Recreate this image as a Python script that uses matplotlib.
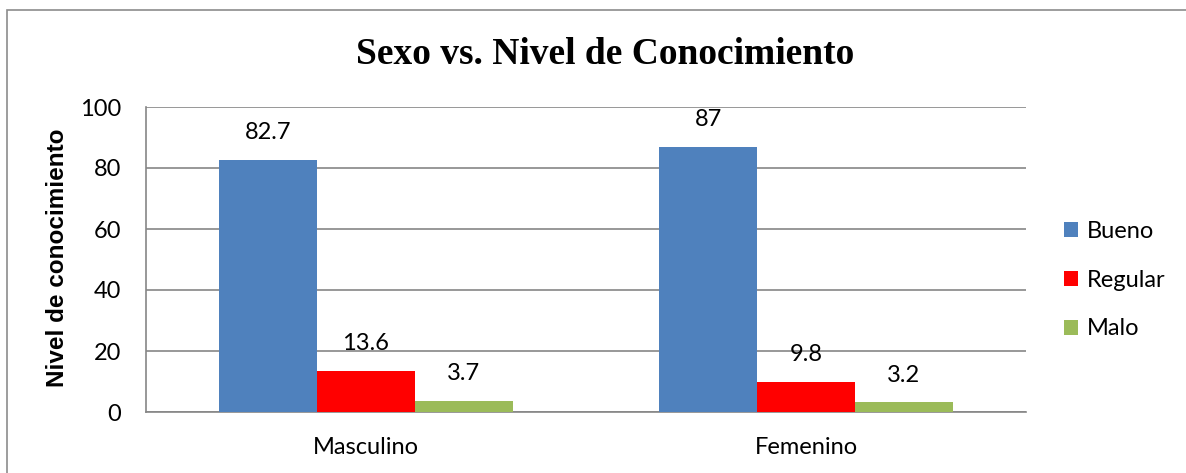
import matplotlib
matplotlib.use('Agg')
import matplotlib.pyplot as plt
from matplotlib.patches import Rectangle
import numpy as np

categories = ['Masculino', 'Femenino']
series_names = ['Bueno', 'Regular', 'Malo']
bueno = [82.7, 87]
regular = [13.6, 9.8]
malo = [3.7, 3.2]
value_labels = [['82.7', '87'], ['13.6', '9.8'], ['3.7', '3.2']]
colors = ['#4F81BD', '#FF0000', '#9BBB59']

plt.rcParams['font.family'] = ['Lato', 'DejaVu Sans']
GRID = '#868686'
FS = 17

fig = plt.figure(figsize=(11.86, 4.73), dpi=100)
ax = fig.add_axes([146 / 1186, 1 - 412 / 473, 880 / 1186, 305 / 473])

# outer chart border (right/bottom edges fall outside the image)
fig.patches.append(Rectangle((7 / 1186, -0.1), 1.2, 1 - 10 / 473 + 0.1,
                             transform=fig.transFigure, fill=False,
                             edgecolor='#8c8c8c', linewidth=1.2))

x = np.arange(len(categories))
width = 1 / 4.5
for i, (vals, name) in enumerate(zip([bueno, regular, malo], series_names)):
    pos = x + (i - 1) * width
    ax.bar(pos, vals, width, color=colors[i], label=name, zorder=3)
    for px, v, t in zip(pos, vals, value_labels[i]):
        ax.annotate(t, (px, v), xytext=(0, 12), textcoords='offset points',
                    ha='center', va='bottom', fontsize=FS)

ax.set_xlim(-0.5, 1.5)
ax.set_ylim(0, 100)
ax.set_yticks(range(0, 101, 20))
ax.set_xticks(x)
ax.set_xticklabels(categories)
ax.tick_params(axis='both', length=0, labelsize=FS)
ax.tick_params(axis='y', pad=18)
ax.tick_params(axis='x', pad=18)
ax.grid(axis='y', color=GRID, linewidth=1.2, zorder=0)
for s in ['top', 'right']:
    ax.spines[s].set_visible(False)
for s in ['left', 'bottom']:
    ax.spines[s].set_color(GRID)
    ax.spines[s].set_linewidth(1.2)

ax.set_ylabel('Nivel de conocimiento', fontsize=17.5, fontweight='bold',
              family='Liberation Sans', labelpad=8)
ax.yaxis.set_label_coords(-0.087, 0.505)

fig.text(605 / 1186, 1 - 54 / 473, 'Sexo vs. Nivel de Conocimiento',
         ha='center', va='center', fontsize=27, fontweight='bold',
         family='Liberation Serif')

fig.legend(loc='center left', bbox_to_anchor=(1064 / 1186, 1 - 280 / 473),
           frameon=False, fontsize=FS, handlelength=0.6, handleheight=0.6,
           handletextpad=0.35, labelspacing=1.18, borderpad=0, borderaxespad=0)

fig.savefig('out.png', dpi=100)
